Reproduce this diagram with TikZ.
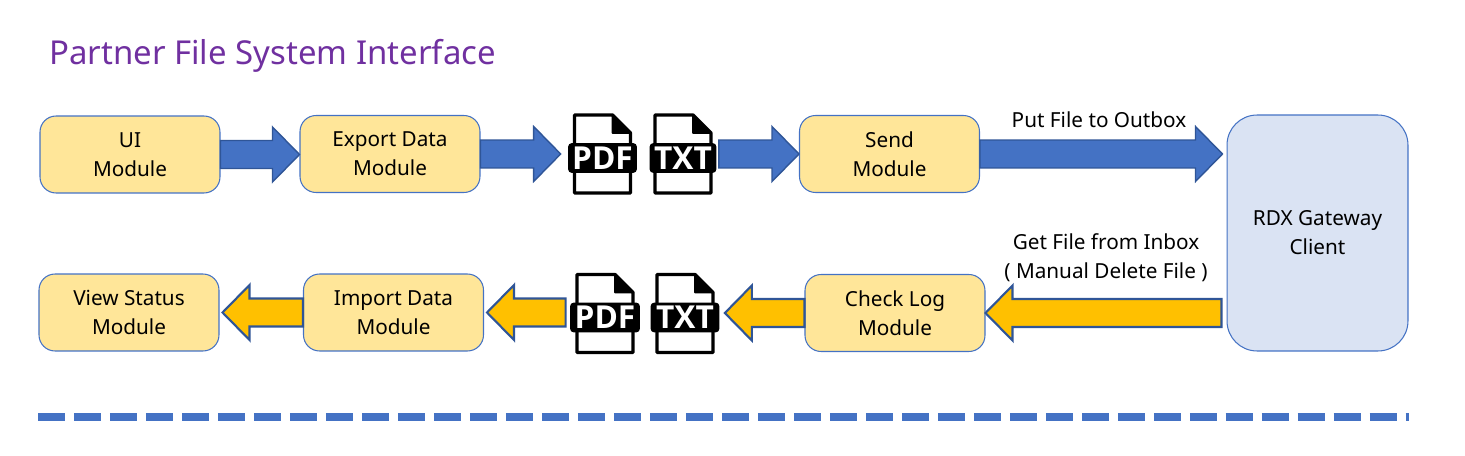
\documentclass[tikz,border=0pt]{standalone}
\usepackage{fontspec}
\setmainfont{Noto Sans}
\newfontfamily\iconfont{Open Sans}
\usetikzlibrary{calc}
\definecolor{boxfill}{HTML}{FFE699}
\definecolor{boxline}{HTML}{4472C4}
\definecolor{gatefill}{HTML}{DAE3F3}
\definecolor{arrowline}{HTML}{2F5597}
\definecolor{arrowin}{HTML}{FFC000}
\definecolor{titlecol}{HTML}{7030A0}
\tikzset{
    modulebox/.style={draw=boxline, fill=boxfill, line width=0.6pt, rounded corners=0.32cm,
        minimum width=3.6cm, minimum height=1.54cm, align=center, inner sep=0pt,
        font=\fontsize{11.8}{16.5}\selectfont},
    bluearrow/.style={draw=arrowline, fill=boxline, line width=0.8pt},
    yellowarrow/.style={draw=arrowline, fill=arrowin, line width=1.2pt},
    arrowtext/.style={align=center, inner sep=0pt, font=\fontsize{11.8}{16.5}\selectfont},
    iconband/.style={fill=black, text=white, rounded corners=0.08cm, inner sep=0pt,
        minimum height=0.6cm, font=\iconfont\fontsize{18}{18}\selectfont\bfseries},
    pics/filedoc/.style n args={2}{
        code={
            % page with folded corner
            \draw[fill=white, line width=1.9pt, line join=round] (-28,-43) -- (10,-43) -- (28,-25) -- (28,35) -- (-28,35) -- cycle;
            \fill[black, line join=round, draw=black, line width=1pt] (10,-43) -- (28,-25) -- (10,-25) -- cycle;
            \node[iconband, minimum width=#2] (-band) at (0,0) {#1};
        }
    },
}
% block arrow between two points, at the height of the first one
\newcommand{\blockarrow}[3][bluearrow]{
    \draw[#1] let \p1=#2, \p2=#3, \n1={ifthenelse(\x2>\x1,1,-1)} in
        (\x1,{\y1+0.28cm}) -- ({\x2-\n1*0.54cm},{\y1+0.28cm}) -- ({\x2-\n1*0.54cm},{\y1+0.55cm})
        -- (\x2,\y1) -- ({\x2-\n1*0.54cm},{\y1-0.55cm}) -- ({\x2-\n1*0.54cm},{\y1-0.28cm})
        -- (\x1,{\y1-0.28cm}) -- cycle;
}
\begin{document}
\begin{tikzpicture}[x=0.02cm, y=-0.02cm]
    \useasboundingbox (0,0) rectangle (1465,456);

    \node[anchor=west, text=titlecol, inner sep=0pt, font=\fontsize{18.75}{22}\selectfont] (title) at (49,56) {Partner File System Interface};

    % top row
    \node[modulebox] (ui) at (130,154.5) {UI\\Module};
    \node[modulebox] (export) at (390,154) {Export Data\\Module};
    \pic (pdfa) at (602.5,158) {filedoc={PDF}{1.38cm}};
    \pic (txta) at (683,158) {filedoc={TXT}{1.34cm}};
    \node[modulebox] (send) at (889.5,154) {Send\\Module};

    % gateway
    \node[modulebox, fill=gatefill, minimum width=3.62cm, minimum height=4.72cm, rounded corners=0.6cm] (rdx) at (1317.5,233) {RDX Gateway\\Client};

    % bottom row
    \node[modulebox] (view) at (129,312.5) {View Status\\Module};
    \node[modulebox] (import) at (393.5,312.5) {Import Data\\Module};
    \pic (pdfb) at (605,317.5) {filedoc={PDF}{1.4cm}};
    \pic (txtb) at (685,317.5) {filedoc={TXT}{1.38cm}};
    \node[modulebox] (check) at (895,313) {Check Log\\Module};

    % arrows, top row
    \blockarrow{(ui.east)}{(export.west)}
    \blockarrow{(export.east)}{([xshift=-0.14cm]pdfa-band.west)}
    \blockarrow{([xshift=0.04cm]txta-band.east |- send.west)}{(send.west)}
    \blockarrow{(send.east)}{([xshift=-0.08cm]rdx.west)}

    % arrows, bottom row
    \blockarrow[yellowarrow]{([xshift=-0.1cm]rdx.west |- check.east)}{(check.east)}
    \blockarrow[yellowarrow]{(check.west)}{([xshift=0.1cm]txtb-band.east)}
    \blockarrow[yellowarrow]{([xshift=-0.08cm]pdfb-band.west |- import.east)}{([xshift=0.06cm]import.east)}
    \blockarrow[yellowarrow]{(import.west)}{([xshift=0.06cm]view.east)}

    \node[arrowtext] (puttext) at (1099,119.5) {Put File to Outbox};
    \node[arrowtext] (gettext) at (1106,258) {Get File from Inbox\\( Manual Delete File )};

    % divider
    \coordinate (lineleft) at (38,417);
    \coordinate (lineright) at (1409,417);
    \draw[boxline, line width=0.16cm, dash pattern=on 0.54cm off 0.18cm] (lineleft) -- (lineright);
\end{tikzpicture}
\end{document}
